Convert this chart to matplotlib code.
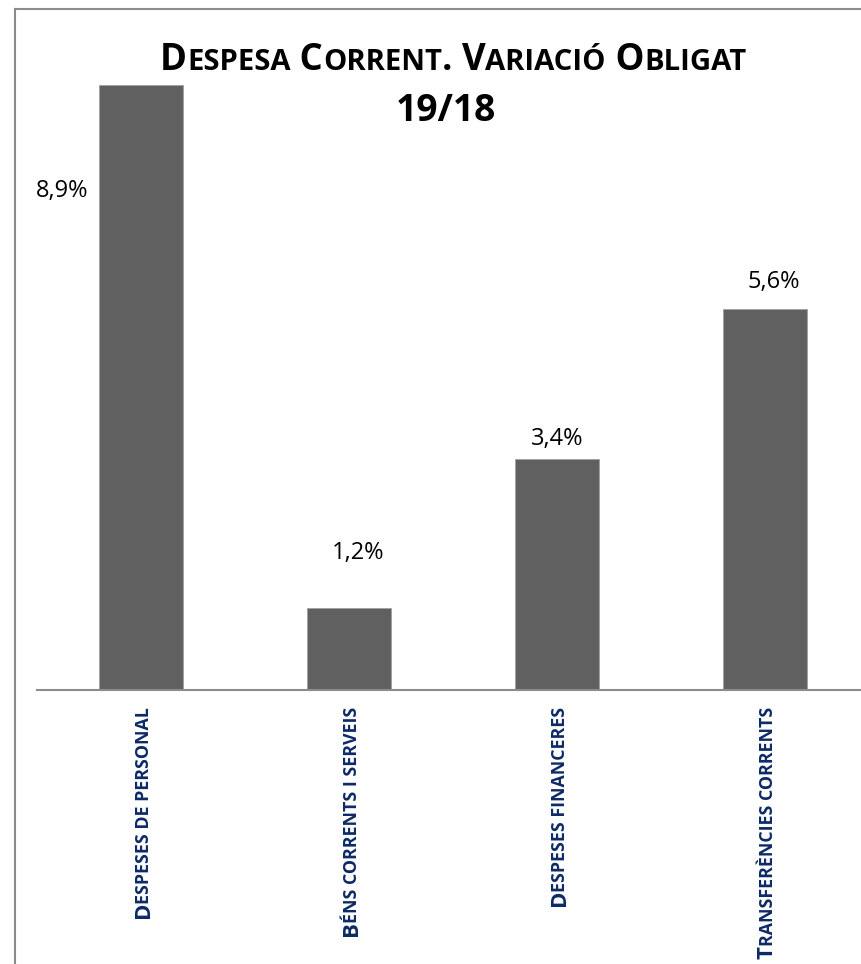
import numpy as np
import matplotlib
matplotlib.use("Agg")
import matplotlib.pyplot as plt
from matplotlib.font_manager import FontProperties
from matplotlib.transforms import IdentityTransform
from matplotlib.lines import Line2D

# ---- data ----
categories = ["Despeses de personal", "Béns corrents i serveis",
              "Despeses financeres", "Transferències corrents"]
values = [8.9, 1.2, 3.4, 5.6]
value_labels = ["8,9%", "1,2%", "3,4%", "5,6%"]
title_lines = ["Despesa Corrent. Variació Obligat", "19/18"]

# ---- style ----
FAM = ["Open Sans", "DejaVu Sans"]
W, H = 862, 964
BAR_COLOR = "#606060"
LABEL_COLOR = "#0d2a66"
GRID_GRAY = "#8c8c8c"
label_offsets_px = [(-79, -106), (9, 55), (0, 20), (9, 27)]

fig = plt.figure(figsize=(W / 100, H / 100), dpi=100)
ax = fig.add_axes([37 / W, (H - 690) / H, 832 / W, 680 / H])
x = list(range(len(categories)))
ax.bar(x, values, width=0.4, color=BAR_COLOR, edgecolor="#a0a0a0", linewidth=0.6)
ax.set_xlim(-0.5, len(categories) - 0.5)
ax.set_ylim(0, 10)
for s in ["left", "right", "top"]:
    ax.spines[s].set_visible(False)
ax.spines["bottom"].set_color(GRID_GRAY)
ax.spines["bottom"].set_linewidth(1.5)
ax.set_xticks([])
ax.set_yticks([])
ax.patch.set_alpha(0)

for xi, v, lab, (dx, dy) in zip(x, values, value_labels, label_offsets_px):
    ax.annotate(lab, xy=(xi, v), xytext=(dx, dy), textcoords="offset pixels",
                ha="center", va="center", fontsize=17, family=FAM, color="black")

renderer = fig.canvas.get_renderer()


def ink(s, prop):
    return renderer.get_text_width_height_descent(s, prop, ismath=False)[0]


def adv(s, prop):
    return ink("x" + s + "x", prop) - ink("xx", prop)


def ink_start(s, prop, rotation):
    """Where the drawn ink begins along the reading direction, relative to the anchor."""
    big, small_ = 700, 200
    if rotation == 0:
        tf = plt.figure(figsize=(big / 100, small_ / 100), dpi=100)
        ax0, ay0 = 50, 100
    else:
        tf = plt.figure(figsize=(small_ / 100, big / 100), dpi=100)
        ax0, ay0 = 100, 50
    tf.text(ax0, ay0, s, fontproperties=prop, rotation=rotation, rotation_mode="anchor",
            ha="left", va="baseline", transform=IdentityTransform(), color="black")
    tf.canvas.draw()
    buf = np.asarray(tf.canvas.buffer_rgba())[:, :, 0].astype(int)
    plt.close(tf)
    mask = buf < 200
    if rotation == 0:
        cols = np.where(mask.any(axis=0))[0]
        return cols.min() - ax0
    rows = np.where(mask.any(axis=1))[0]
    return (big - rows.max() - 1) - ay0


def make_runs(text, size, ratio, weight):
    flags = []
    for i, ch in enumerate(text):
        if ch.isalpha():
            flags.append(ch.islower())
        else:
            nxt = text[i + 1] if i + 1 < len(text) else ""
            prev_small = flags[-1] if flags else False
            flags.append(ch == " " and prev_small and nxt.islower())
    runs = []
    for ch, small in zip(text, flags):
        c = ch.upper()
        if runs and runs[-1][1] == small:
            runs[-1][0] += c
        else:
            runs.append([c, small])
    return [(s, FontProperties(family=FAM, weight=weight,
                               size=size * (ratio if sm else 1.0))) for s, sm in runs]


def smallcaps_h(text, x0, y0, size, ratio, weight, color):
    runs = make_runs(text, size, ratio, weight)
    advs = [adv(s, p) for s, p in runs]
    pos = -sum(advs) / 2
    for (s, p), a in zip(runs, advs):
        fig.text(x0 + pos, y0, s, fontproperties=p, color=color,
                 ha="left", va="baseline", transform=IdentityTransform())
        pos += a


def smallcaps_v(text, x0, y_end, size, ratio, weight, color):
    runs = make_runs(text, size, ratio, weight)
    pens = []
    pos = 0.0
    for s, p in runs:
        lead = len(s) - len(s.lstrip(" "))
        core = s.strip(" ")
        pen = pos + lead * adv(" ", p)
        corr = ink_start(core, p, 0) - ink_start(core, p, 90)
        pens.append((pen + corr, core, p))
        pos += adv(s, p)
    last_s, last_p = runs[-1]
    core_last = last_s.rstrip(" ")
    rsb = adv(core_last[-1], last_p) - ink(core_last[-1], last_p)
    total = pos - rsb * 0.5
    for anc, core, p in pens:
        fig.text(x0, y_end - total + anc, core, fontproperties=p, color=color,
                 rotation=90, rotation_mode="anchor", ha="left", va="baseline",
                 transform=IdentityTransform())


# title
smallcaps_h(title_lines[0], 453, H - 70, 26.3, 0.8, "bold", "black")
smallcaps_h(title_lines[1], 446, H - 121, 26.8, 0.8, "bold", "black")

# category labels (rotated)
LSIZE = 16
cap_px = 0.714 * LSIZE * 100 / 72
for xi, cat in zip(x, categories):
    cx = ax.transData.transform((xi, 0))[0]
    smallcaps_v(cat, cx + cap_px / 2, H - 708, LSIZE, 0.8, "bold", LABEL_COLOR)

# outer frame (left and top edges)
fig.add_artist(Line2D([14.5, 14.5], [0, H - 8.5], transform=IdentityTransform(),
                      color=GRID_GRAY, lw=1.5))
fig.add_artist(Line2D([14.5, W], [H - 8.5, H - 8.5], transform=IdentityTransform(),
                      color=GRID_GRAY, lw=1.5))

fig.savefig("out.png", dpi=100)
